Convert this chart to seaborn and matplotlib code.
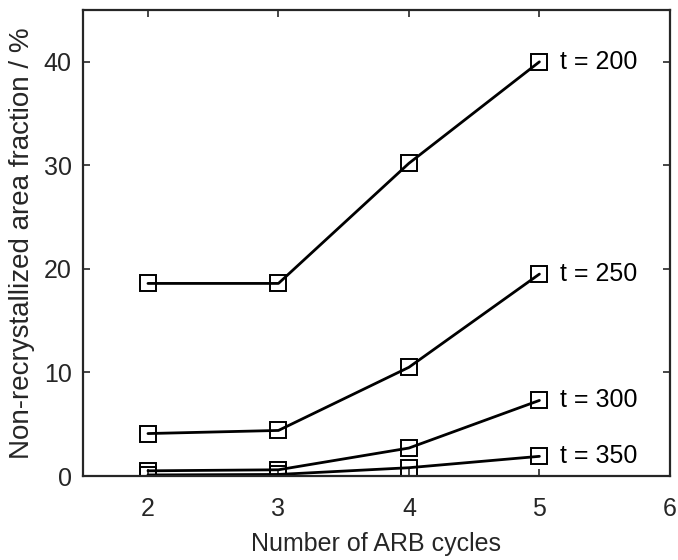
import numpy as np
import pandas as pd
import seaborn as sns
import matplotlib.pyplot as plt

sns.set_style("white")
plt.rcParams['font.family'] = ['Liberation Sans', 'DejaVu Sans']

cycles = [2, 3, 4, 5]
temps = ["t = 200", "t = 250", "t = 300", "t = 350"]
frac_200 = [18.6, 18.6, 30.2, 40.0]
frac_250 = [4.1, 4.4, 10.5, 19.5]
frac_300 = [0.5, 0.6, 2.7, 7.3]
frac_350 = [0.1, 0.15, 0.8, 1.9]

df = pd.DataFrame({
    "cycles": cycles * 4,
    "frac": frac_200 + frac_250 + frac_300 + frac_350,
    "temp": np.repeat(temps, len(cycles)),
})

fig = plt.figure(figsize=(6.78, 5.6), dpi=100)
ax = fig.add_axes([0.122, 0.15, 0.866, 0.832])

for t in temps:
    sub = df[df["temp"] == t]
    sns.lineplot(data=sub, x="cycles", y="frac", ax=ax, color="black",
                 linewidth=2.0, marker="s", markersize=11.5,
                 markerfacecolor="none", markeredgecolor="black",
                 markeredgewidth=1.4)
    last = sub.iloc[-1]
    ax.text(last["cycles"] + 0.16, last["frac"], t, fontsize=18,
            color="black", va="center", ha="left")

ax.set_xlim(1.5, 6)
ax.set_ylim(0, 45)
ax.set_xticks([2, 3, 4, 5, 6])
ax.set_yticks([0, 10, 20, 30, 40])
ax.set_xlabel("Number of ARB cycles", fontsize=18, color="#262626", labelpad=8)
ax.set_ylabel("Non-recrystallized area fraction / %", fontsize=20,
              color="#262626", labelpad=6)
ax.tick_params(direction="in", length=5, width=1.2, labelsize=18, pad=8,
               labelcolor="#262626", top=True, right=True, bottom=True, left=True)
ax.tick_params(axis="x", pad=15)
for s in ax.spines.values():
    s.set_linewidth(1.6)
    s.set_color("#262626")

fig.savefig("out.png", dpi=100)
